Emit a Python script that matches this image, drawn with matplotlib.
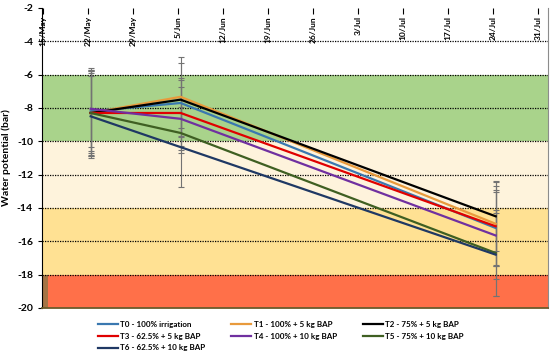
import numpy as np
import matplotlib
matplotlib.use("Agg")
import matplotlib.pyplot as plt
import matplotlib.dates as mdates
from matplotlib.ticker import FuncFormatter, MultipleLocator

plt.rcParams["font.family"] = ["Lato", "DejaVu Sans"]
plt.rcParams["axes.unicode_minus"] = False

# sampling dates and treatment means / errors (bar)
dates = np.array(["2019-05-22", "2019-06-05", "2019-07-24"], dtype="datetime64[D]")
names = ["T0 - 100% irrigation", "T1 - 100% + 5 kg BAP", "T2 - 75% + 5 kg BAP",
         "T3 - 62.5% + 5 kg BAP", "T4 - 100% + 10 kg BAP", "T5 - 75% + 10 kg BAP",
         "T6 - 62.5% + 10 kg BAP"]
t0 = [-8.2, -7.7, -15.2]
t1 = [-8.3, -7.33, -14.95]
t2 = [-8.3, -7.5, -14.5]
t3 = [-8.3, -8.3, -15.1]
t4 = [-8.05, -8.65, -15.65]
t5 = [-8.3, -9.5, -16.7]
t6 = [-8.5, -10.35, -16.8]
e0 = [2.4, 1.5, 2.3]
e1 = [2.6, 2.4, 2.5]
e2 = [2.7, 2.2, 2.1]
e3 = [2.4, 2.0, 2.4]
e4 = [2.3, 1.9, 2.6]
e5 = [2.5, 1.2, 2.6]
e6 = [2.4, 2.4, 2.5]
series = [t0, t1, t2, t3, t4, t5, t6]
errors = [e0, e1, e2, e3, e4, e5, e6]
colors = ["#3A78B0", "#E89A3C", "#000000", "#E00000", "#7030A0", "#3F5F22", "#1F3864"]

# stress bands (bar)
band_edges = [-2, -6, -10, -14, -18, -20]
band_colors = ["#FFFFFF", "#A9D38B", "#FEF3DC", "#FFE193", "#FF7049"]

fig = plt.figure(figsize=(5.5, 3.58), dpi=100)
ax = fig.add_axes([0.0764, 0.1397, 0.92, 0.838])

x = mdates.date2num(dates.astype("datetime64[s]").astype(object)) + 0.4
x0 = mdates.date2num(np.datetime64("2019-05-14T20:00").astype(object))
x1 = mdates.date2num(np.datetime64("2019-08-01T13:00").astype(object))
ax.set_xlim(x0, x1)
ax.set_ylim(-20, -2)

for i in range(len(band_colors)):
    ax.axhspan(band_edges[i + 1], band_edges[i], color=band_colors[i], zorder=0, lw=0)
ax.fill_between([x0, x0 + 0.95], -20, -18, color="#A57444", zorder=0.5, lw=0)

for yy in range(-4, -19, -2):
    ax.axhline(yy, color="black", ls=(0, (1, 1)), lw=0.9, zorder=1)

for s, e, c in zip(series, errors, colors):
    ax.errorbar(x, s, yerr=e, fmt="none", ecolor="#737373", elinewidth=0.8,
                capsize=2, capthick=0.8, zorder=2)
lines = []
for s, c, n in zip(series, colors, names):
    ln, = ax.plot(x, s, color=c, lw=1.6, label=n, zorder=3)
    lines.append(ln)

# x axis at top, labels hanging inside
ticks = mdates.date2num(np.arange(np.datetime64("2019-05-15"), np.datetime64("2019-08-01"),
                                  np.timedelta64(7, "D")).astype("datetime64[s]").astype(object))
ax.set_xticks(ticks)
ax.xaxis.set_major_formatter(FuncFormatter(
    lambda v, p: f"{mdates.num2date(v).day}/{mdates.num2date(v).strftime('%b')}"))
ax.tick_params(axis="x", bottom=False, labelbottom=False, top=True, labeltop=True,
               direction="in", length=4, pad=-6, labelsize=6.0)
for lab in ax.get_xticklabels(which="both"):
    lab.set_rotation(90)
    lab.set_va("top")
    lab.set_fontweight("bold")

ax.yaxis.set_major_locator(MultipleLocator(2))
ax.tick_params(axis="y", direction="out", length=3, labelsize=7.5)
for lab in ax.get_yticklabels():
    lab.set_fontweight("bold")
ax.set_ylabel("Water potential (bar)", fontsize=7.5, fontweight="bold", labelpad=4)

ax.spines["top"].set_visible(False)
ax.spines["right"].set_color("#8C8C8C")
ax.spines["left"].set_color("black")
ax.spines["bottom"].set_color("#6B5A2A")
ax.spines["bottom"].set_linewidth(1.3)

order = [0, 3, 6, 1, 4, 2, 5]
fig.legend([lines[i] for i in order], [names[i] for i in order], ncol=3,
           loc="upper left", bbox_to_anchor=(0.172, 0.113), frameon=False,
           prop={"size": 5.8, "weight": "bold"}, handlelength=2.5, handletextpad=0.3,
           columnspacing=3.2, labelspacing=0.6, borderaxespad=0)

fig.savefig("out.png", dpi=100)
